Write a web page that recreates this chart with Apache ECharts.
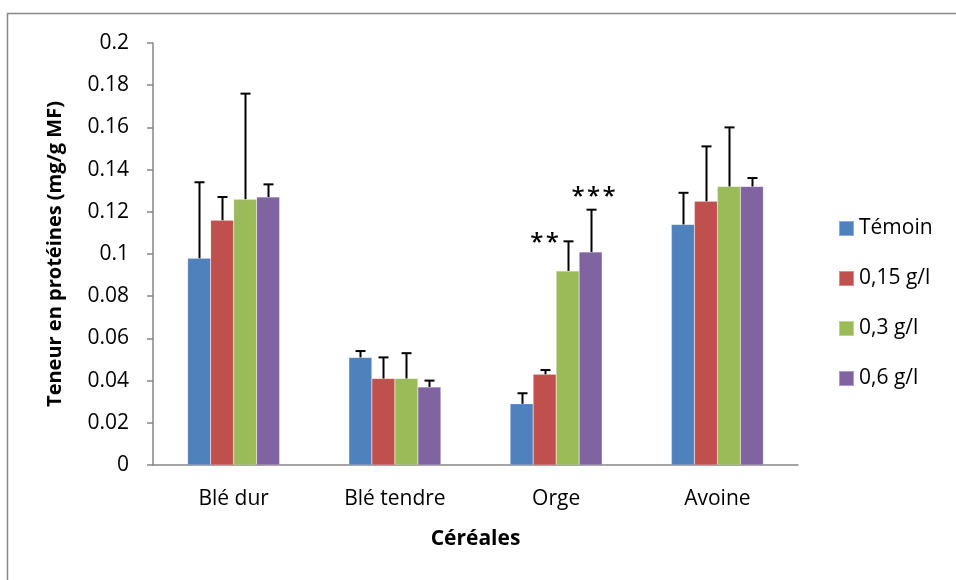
<!DOCTYPE html>
<html>
<head>
<meta charset="utf-8">
<script src="https://cdn.jsdelivr.net/npm/echarts@6/dist/echarts.min.js"></script>
<style>
  html, body { margin: 0; padding: 0; background: #fff; }
  #chart { width: 956px; height: 580px; }
</style>
</head>
<body>
<div id="chart"></div>
<script>
// Protein content per cereal and treatment (mg/g MF), with standard deviations
const categories = ['Blé dur', 'Blé tendre', 'Orge', 'Avoine'];
const seriesNames = ['Témoin', '0,15 g/l', '0,3 g/l', '0,6 g/l'];

const temoin = [0.098, 0.051, 0.029, 0.114];
const dose015 = [0.116, 0.041, 0.043, 0.125];
const dose03 = [0.126, 0.041, 0.092, 0.132];
const dose06 = [0.127, 0.037, 0.101, 0.132];

const errTemoin = [0.036, 0.003, 0.005, 0.015];
const err015 = [0.011, 0.010, 0.002, 0.026];
const err03 = [0.050, 0.012, 0.014, 0.028];
const err06 = [0.006, 0.003, 0.020, 0.004];

// Significance marks per treatment and cereal
const sigTemoin = ['', '', '', ''];
const sig015 = ['', '', '', ''];
const sig03 = ['', '', '**', ''];
const sig06 = ['', '', '***', ''];

const yTicks = [0, 0.02, 0.04, 0.06, 0.08, 0.1, 0.12, 0.14, 0.16, 0.18, 0.2];

const values = [temoin, dose015, dose03, dose06];
const errors = [errTemoin, err015, err03, err06];
const marks = [sigTemoin, sig015, sig03, sig06];
const colors = ['#4F81BD', '#C0504D', '#9BBB59', '#8064A2'];

const FONT = '"Open Sans", "Noto Sans", sans-serif';
const FS = 21;
const BAR_W = 23;
// where each significance mark sits relative to the top of its error bar
const markPlacement = [
  { dx: 0, dy: -14 },
  { dx: 0, dy: -14 },
  { dx: -24, dy: 2 },
  { dx: 2, dy: -13 }
];

const chart = echarts.init(document.getElementById('chart'), null, { renderer: 'canvas' });

const barSeries = values.map((vals, s) => ({
  name: seriesNames[s],
  type: 'bar',
  data: vals,
  barWidth: BAR_W,
  barGap: '0%',
  itemStyle: { color: colors[s], borderColor: 'rgba(255,255,255,0.35)', borderWidth: 0.5 },
  emphasis: { disabled: true },
  z: 2
}));

const errorSeries = values.map((vals, s) => ({
  name: seriesNames[s],
  type: 'custom',
  data: vals.map((v, i) => [i, v, v + errors[s][i], marks[s][i]]),
  encode: { x: 0, y: [1, 2] },
  z: 5,
  silent: true,
  renderItem: function (params, api) {
    const ci = api.value(0);
    const base = api.coord([ci, api.value(1)]);
    const top = api.coord([ci, api.value(2)]);
    const x = Math.round(base[0] + (s - 1.5) * BAR_W) + 0.5;
    const capHalf = 5;
    const children = [
      { type: 'line', shape: { x1: x, y1: base[1], x2: x, y2: top[1] }, style: { stroke: '#000', lineWidth: 2 } },
      { type: 'line', shape: { x1: x - capHalf, y1: top[1], x2: x + capHalf, y2: top[1] }, style: { stroke: '#000', lineWidth: 2 } }
    ];
    const mark = marks[s][ci];
    if (mark) {
      const p = markPlacement[s];
      children.push({
        type: 'text',
        style: {
          text: mark.split('').join('\u200A'),
          x: x + p.dx,
          y: top[1] + p.dy,
          align: 'center',
          verticalAlign: 'middle',
          font: '600 24px ' + FONT,
          fill: '#000'
        }
      });
    }
    return { type: 'group', children: children };
  }
}));

chart.setOption({
  animation: false,
  backgroundColor: '#fff',
  textStyle: { fontFamily: FONT },
  graphic: [{
    type: 'rect',
    shape: { x: 7.5, y: 13.5, width: 1000, height: 1000 },
    style: { fill: 'none', stroke: '#878787', lineWidth: 1.5 },
    silent: true,
    z: -1
  }],
  grid: { left: 153, right: 158, top: 43, bottom: 115, containLabel: false },
  legend: {
    data: seriesNames,
    orient: 'vertical',
    left: 838,
    top: 218,
    padding: 0,
    icon: 'rect',
    itemWidth: 15,
    itemHeight: 15,
    itemGap: 29,
    selectedMode: false,
    textStyle: { fontSize: FS, color: '#000', fontFamily: FONT, lineHeight: 20 }
  },
  xAxis: {
    type: 'category',
    data: categories,
    name: 'Céréales',
    nameLocation: 'middle',
    nameGap: 64,
    nameTextStyle: { fontSize: FS, fontWeight: 'bold', color: '#000', fontFamily: FONT },
    axisLine: { lineStyle: { color: '#868686', width: 1.5 } },
    axisTick: { show: false },
    axisLabel: { fontSize: FS, color: '#000', margin: 24, fontFamily: FONT },
    splitLine: { show: false }
  },
  yAxis: {
    type: 'value',
    min: yTicks[0],
    max: yTicks[yTicks.length - 1],
    interval: 0.02,
    name: 'Teneur en protéines (mg/g MF)',
    nameLocation: 'middle',
    nameGap: 88,
    nameTextStyle: { fontSize: 20, fontWeight: 'bold', color: '#000', fontFamily: FONT },
    axisLine: { show: true, lineStyle: { color: '#868686', width: 1.5 } },
    axisTick: { show: true, length: 6, lineStyle: { color: '#868686', width: 1.5 } },
    axisLabel: {
      fontSize: FS,
      color: '#000',
      margin: 24,
      fontFamily: FONT,
      formatter: v => String(parseFloat(v.toFixed(2)))
    },
    splitLine: { show: false }
  },
  series: barSeries.concat(errorSeries)
});
</script>
</body>
</html>
